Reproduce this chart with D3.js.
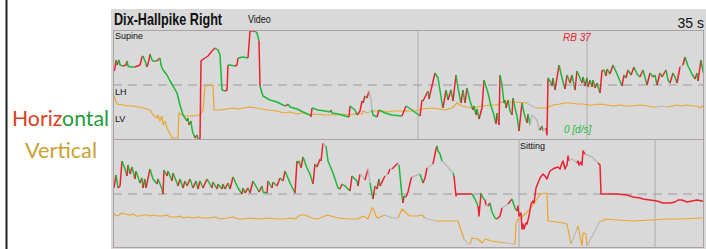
<!DOCTYPE html>
<html>
<head>
<meta charset="utf-8">
<script src="https://cdn.jsdelivr.net/npm/d3@7"></script>
<style>
  body { margin: 0; background: #fff; }
  svg { display: block; }
</style>
</head>
<body>
<div id="chart"></div>
<script>
// Eye velocity traces, [time sample, deg/s, phase]
// phase: f = fast phase, s = slow phase, m = missing, v = vertical, ok
var upperH = [
  [0,14,"s"],[1,17,"f"],[2,25,"f"],[3,20,"s"],[5,25,"f"],[6,20,"s"],[9,19,"s"],[12,20,"f"],[13,24,"f"],[14,19,"s"],
  [16,18,"s"],[21,18,"s"],[26,20,"f"],[28,28,"f"],[29,29,"f"],[31,24,"s"],[33,18,"s"],[35,25,"f"],[36,31,"f"],[38,25,"s"],
  [39,24,"s"],[43,24,"s"],[46,27,"f"],[47,20,"s"],[49,15,"s"],[53,10,"s"],[56,4,"s"],[59,-1,"s"],[63,-8,"s"],[66,-20,"s"],
  [69,-30,"s"],[73,-36,"s"],[74,-33,"f"],[75,-40,"s"],[77,-36,"f"],[78,-44,"s"],[79,-48,"s"],[81,-53,"s"],[83,-50,"f"],[84,-54,"s"],
  [86,-54,"s"],[87,24,"f"],[88,25,"f"],[91,27,"f"],[94,29,"f"],[98,34,"f"],[101,37,"f"],[104,35,"s"],[106,30,"s"],[108,-5,"s"],
  [111,-6,"s"],[113,-5,"f"],[114,20,"f"],[116,20,"s"],[121,19,"s"],[123,20,"f"],[124,27,"f"],[129,28,"s"],[134,27,"s"],[136,54,"f"],
  [141,54,"f"],[143,52,"s"],[145,44,"s"],[146,-1,"f"],[148,-8,"s"],[149,-11,"s"],[156,-15,"s"],[163,-17,"s"],[169,-20,"s"],[172,-21,"s"],
  [174,-19,"f"],[176,-22,"s"],[183,-24,"s"],[189,-27,"s"],[196,-30,"s"],[197,-32,"s"],[198,-23,"f"],[204,-25,"s"],[211,-26,"s"],[216,-27,"s"],
  [217,-25,"f"],[218,-28,"s"],[224,-29,"s"],[231,-31,"s"],[235,-32,"s"],[236,-21,"f"],[241,-25,"s"],[243,-30,"s"],[246,-26,"f"],[248,-16,"f"],
  [249,-18,"s"],[251,-11,"f"],[253,-13,"s"],[255,-6,"f"],[257,-15,"m"],[258,-25,"m"],[259,-30,"s"],[263,-32,"s"],[265,-25,"f"],[271,-28,"s"],
  [278,-30,"s"],[288,-31,"s"],[292,-21,"f"],[298,-25,"s"],[306,-31,"s"],[308,-15,"f"],[309,-16,"s"],[314,-6,"f"],[315,-14,"s"],[317,-5,"f"],
  [321,12,"f"],[324,7,"s"],[328,-18,"s"],[329,-23,"s"],[332,-5,"f"],[334,-15,"s"],[337,-5,"f"],[339,-16,"s"],[342,10,"f"],[344,-3,"s"],
  [347,-18,"s"],[349,-5,"f"],[351,-18,"s"],[353,-3,"f"],[356,-16,"s"],[359,-25,"s"],[360,-21,"f"],[362,-30,"s"],[363,-24,"f"],[365,-34,"s"],
  [368,-23,"f"],[370,5,"f"],[374,-8,"s"],[377,-21,"s"],[380,-30,"s"],[382,-39,"s"],[383,-28,"f"],[385,-40,"s"],[386,10,"f"],[388,0,"s"],
  [390,-18,"s"],[391,-15,"f"],[392,-23,"s"],[394,-15,"f"],[396,-26,"s"],[398,-30,"s"],[399,-13,"f"],[401,-23,"s"],[403,-31,"s"],[404,-38,"s"],
  [405,-46,"s"],[408,-18,"f"],[410,-28,"s"],[413,-38,"s"],[414,-29,"f"],[416,-40,"s"],[418,-30,"m"],[423,-35,"m"],[425,-44,"m"],[426,-45,"s"],
  [428,-41,"f"],[429,-46,"s"],[432,-43,"m"],[433,-50,"f"],[434,7,"f"],[436,4,"s"],[438,-1,"s"],[439,7,"f"],[441,-5,"s"],[443,7,"f"],
  [445,20,"f"],[448,7,"s"],[451,-4,"s"],[453,10,"f"],[456,2,"s"],[458,10,"f"],[461,-5,"s"],[463,14,"f"],[468,2,"s"],[469,8,"f"],
  [471,-1,"s"],[473,7,"f"],[474,-2,"s"],[476,5,"f"],[478,-2,"s"],[479,5,"f"],[481,-3,"s"],[483,2,"f"],[486,-8,"s"],[488,14,"f"],
  [490,15,"f"],[492,9,"s"],[493,16,"f"],[496,11,"s"],[499,20,"f"],[503,11,"s"],[508,-1,"s"],[510,10,"f"],[512,7,"s"],[514,15,"f"],
  [517,10,"s"],[520,18,"f"],[523,11,"s"],[526,8,"s"],[529,15,"f"],[533,0,"s"],[536,12,"f"],[539,8,"s"],[541,10,"f"],[543,0,"s"],
  [546,12,"f"],[548,8,"s"],[552,15,"f"],[554,5,"s"],[556,2,"s"],[559,12,"f"],[561,8,"s"],[563,2,"s"],[566,18,"f"],[569,20,"m"],
  [571,28,"f"],[574,19,"s"],[578,11,"s"],[581,6,"s"],[583,12,"f"],[584,4,"s"],[587,25,"f"],[589,13,"s"],[591,10,"s"]
];

var upperV = [
  [0,-11,"v"],[3,-19,"v"],[9,-20,"v"],[14,-21,"v"],[19,-21,"v"],[24,-22,"v"],[29,-23,"v"],[36,-25,"v"],[39,-30,"v"],[43,-33,"v"],
  [44,-30,"v"],[46,-36,"v"],[48,-31,"v"],[49,-40,"v"],[51,-36,"v"],[53,-43,"v"],[56,-49,"v"],[58,-53,"v"],[64,-53,"v"],[65,-28,"v"],
  [68,-30,"v"],[71,-31,"v"],[79,-31,"v"],[86,-30,"v"],[89,-25,"v"],[91,-1,"v"],[99,0,"v"],[100,-25,"v"],[106,-25,"v"],[113,-24,"v"],
  [119,-23,"v"],[124,-24,"v"],[129,-23,"v"],[136,-22,"v"],[143,-23,"v"],[148,-24,"v"],[153,-25,"v"],[163,-26,"v"],[169,-28,"v"],[176,-27,"v"],
  [183,-29,"v"],[189,-28,"v"],[196,-30,"v"],[201,-29,"v"],[211,-30,"v"],[221,-30,"v"],[228,-29,"v"],[234,-30,"v"],[241,-29,"v"],[248,-29,"v"],
  [249,-26,"v"],[253,-28,"v"],[258,-26,"m"],[268,-26,"v"],[273,-27,"v"],[278,-26,"v"],[291,-26,"v"],[301,-26,"v"],[308,-24,"v"],[318,-23,"v"],
  [325,-24,"v"],[331,-25,"v"],[338,-23,"v"],[343,-18,"v"],[348,-21,"v"],[358,-23,"v"],[368,-21,"v"],[378,-20,"v"],[384,-20,"v"],[386,-17,"v"],
  [391,-18,"v"],[393,-17,"v"],[403,-17,"v"],[413,-18,"v"],[418,-21,"m"],[423,-23,"m"],[433,-23,"v"],[436,-21,"v"],[439,-20,"v"],[446,-19,"v"],
  [451,-18,"v"],[456,-18,"v"],[463,-19,"v"],[469,-19,"v"],[474,-20,"v"],[479,-20,"v"],[486,-19,"v"],[493,-20,"v"],[499,-21,"v"],[506,-20,"v"],
  [513,-21,"v"],[519,-21,"v"],[526,-20,"v"],[533,-21,"v"],[538,-22,"v"],[543,-22,"v"],[548,-21,"m"],[553,-22,"m"],[558,-21,"v"],[563,-20,"v"],
  [568,-21,"v"],[573,-20,"v"],[578,-21,"v"],[583,-21,"v"],[586,-23,"v"],[590,-20,"v"]
];

var lowerH = [
  [0,6,"s"],[2,19,"f"],[4,6,"s"],[6,8,"f"],[8,33,"f"],[11,25,"s"],[13,18,"s"],[14,29,"f"],[16,20,"s"],[18,27,"f"],
  [21,15,"s"],[22,23,"f"],[26,11,"s"],[28,16,"f"],[29,6,"s"],[31,15,"f"],[32,6,"s"],[36,25,"f"],[39,15,"s"],[43,10,"s"],
  [44,15,"f"],[48,5,"s"],[49,0,"s"],[50,24,"f"],[53,18,"s"],[54,23,"f"],[58,13,"s"],[59,21,"f"],[63,11,"s"],[64,8,"s"],
  [66,15,"f"],[69,6,"s"],[71,13,"f"],[73,8,"s"],[76,15,"f"],[79,6,"s"],[82,13,"f"],[84,5,"s"],[86,13,"f"],[89,6,"s"],
  [93,15,"f"],[98,6,"s"],[99,12,"f"],[103,5,"s"],[104,10,"f"],[108,5,"s"],[109,10,"f"],[111,5,"s"],[114,11,"f"],[116,5,"s"],
  [119,17,"f"],[124,6,"s"],[128,0,"s"],[129,6,"f"],[131,1,"s"],[134,6,"f"],[136,1,"s"],[139,13,"f"],[143,6,"s"],[145,2,"s"],
  [148,8,"f"],[149,2,"s"],[153,1,"s"],[154,13,"f"],[158,6,"s"],[159,12,"f"],[163,8,"s"],[166,16,"f"],[169,13,"s"],[171,23,"f"],
  [176,11,"s"],[181,1,"s"],[183,33,"f"],[184,31,"s"],[185,33,"f"],[187,26,"s"],[189,37,"f"],[193,26,"s"],[196,20,"s"],[199,10,"s"],
  [201,30,"f"],[203,27,"s"],[206,35,"f"],[207,33,"s"],[209,51,"f"],[212,48,"m"],[214,33,"s"],[219,21,"s"],[224,6,"s"],[226,5,"s"],
  [228,10,"f"],[231,8,"s"],[236,3,"s"],[238,18,"f"],[243,13,"s"],[244,8,"s"],[246,20,"f"],[249,17,"m"],[251,14,"m"],[254,25,"f"],
  [256,11,"m"],[258,0,"s"],[259,-5,"s"],[261,8,"f"],[263,5,"s"],[265,15,"f"],[266,8,"s"],[271,18,"f"],[274,20,"m"],[276,25,"f"],
  [278,25,"m"],[280,27,"f"],[284,31,"f"],[285,29,"m"],[288,-2,"s"],[289,-9,"s"],[290,-2,"f"],[292,-3,"s"],[294,2,"f"],[297,15,"f"],
  [298,17,"f"],[306,20,"m"],[309,11,"s"],[311,16,"f"],[313,26,"f"],[319,30,"m"],[322,45,"f"],[323,48,"f"],[324,43,"s"],[326,40,"s"],
  [328,33,"s"],[331,30,"m"],[339,21,"m"],[340,18,"s"],[342,-2,"f"],[343,0,"f"],[358,0,"f"],[361,-5,"s"],[364,-12,"s"],[365,-22,"f"],
  [367,1,"f"],[369,-4,"s"],[371,-6,"s"],[372,-11,"f"],[374,-12,"m"],[376,-9,"f"],[378,-18,"s"],[381,-24,"s"],[383,-25,"s"],[386,-22,"f"],
  [388,-14,"f"],[391,-12,"m"],[394,-10,"m"],[398,-5,"f"],[401,-14,"s"],[403,-17,"s"],[404,-12,"f"],[405,-22,"f"],[407,-19,"f"],[408,-35,"f"],
  [409,-30,"f"],[410,-35,"f"],[412,-29,"f"],[413,-30,"f"],[415,-22,"f"],[417,-10,"f"],[419,-7,"f"],[420,-9,"f"],[422,6,"f"],[424,11,"f"],
  [426,16,"f"],[429,20,"f"],[431,18,"f"],[433,15,"f"],[434,18,"f"],[436,23,"f"],[439,25,"f"],[441,26,"f"],[444,27,"f"],[446,25,"f"],
  [448,31,"f"],[449,33,"f"],[451,25,"f"],[453,29,"f"],[454,38,"f"],[455,33,"f"],[458,35,"m"],[463,31,"m"],[464,33,"f"],[465,29,"f"],
  [467,32,"f"],[468,29,"f"],[469,43,"f"],[471,40,"f"],[478,37,"m"],[484,31,"m"],[486,29,"f"],[487,0,"f"],[503,0,"f"],[513,-1,"f"],
  [519,-3,"f"],[526,-4,"f"],[529,-5,"f"],[536,-6,"f"],[543,-7,"f"],[549,-9,"f"],[556,-9,"f"],[561,-8,"f"],[564,-6,"f"],[568,-6,"f"],
  [573,-8,"f"],[578,-7,"f"],[583,-6,"f"],[588,-7,"f"],[591,-7,"f"]
];

var lowerV = [
  [0,-20,"v"],[3,-22,"v"],[5,-21,"v"],[8,-19,"v"],[11,-20,"v"],[16,-21,"v"],[19,-20,"v"],[22,-22,"v"],[26,-22,"v"],[29,-21,"v"],
  [33,-21,"v"],[36,-22,"v"],[39,-21,"v"],[43,-22,"v"],[49,-22,"v"],[53,-21,"v"],[56,-23,"v"],[63,-23,"v"],[66,-22,"v"],[69,-24,"v"],
  [74,-23,"v"],[79,-24,"v"],[84,-23,"v"],[89,-24,"v"],[96,-24,"v"],[101,-23,"v"],[106,-25,"v"],[113,-24,"v"],[119,-23,"v"],[124,-25,"v"],
  [129,-25,"v"],[136,-24,"v"],[146,-25,"v"],[153,-24,"v"],[163,-25,"v"],[171,-25,"v"],[176,-24,"v"],[181,-25,"v"],[186,-21,"v"],[191,-21,"v"],
  [198,-24,"v"],[204,-25,"v"],[213,-21,"v"],[224,-24,"v"],[234,-25,"v"],[244,-25,"v"],[249,-22,"v"],[254,-25,"v"],[258,-14,"v"],[259,-14,"v"],
  [262,-22,"v"],[264,-24,"v"],[271,-21,"v"],[278,-24,"m"],[284,-24,"m"],[288,-15,"v"],[291,-18,"v"],[296,-22,"v"],[303,-22,"v"],[308,-21,"v"],
  [311,-24,"v"],[321,-27,"m"],[323,-27,"v"],[344,-27,"v"],[348,-39,"v"],[350,-45,"v"],[354,-50,"m"],[356,-50,"m"],[358,-44,"v"],[364,-45,"v"],
  [368,-49,"v"],[371,-45,"v"],[378,-47,"v"],[384,-48,"v"],[391,-49,"v"],[393,-49,"m"],[399,-50,"m"],[401,-50,"v"],[402,-29,"v"],[404,-25,"v"],
  [407,-25,"v"],[409,-22,"v"],[416,-15,"v"],[423,-5,"v"],[426,0,"v"],[433,1,"v"],[434,-27,"v"],[443,-28,"v"],[449,-29,"v"],[453,-30,"v"],
  [454,-35,"v"],[456,-45,"v"],[457,-50,"v"],[463,-35,"m"],[464,-32,"v"],[466,-42,"v"],[468,-52,"v"],[469,-39,"v"],[470,-39,"v"],[472,-40,"v"],
  [473,-52,"v"],[486,-27,"m"],[489,-27,"v"],[492,-25,"v"],[503,-26,"v"],[519,-27,"v"],[536,-26,"v"],[553,-25,"v"],[569,-25,"v"],[586,-24,"v"],
  [591,-24,"v"]
];

// grid line times in each panel
var upperGrid = [304, 473];
var lowerGrid = [405, 541];

var phaseColor = { f: "#ee2030", s: "#1cb83a", m: "#b9b9b9", v: "#eba52e" };

var svgWidth = 706;
var svgHeight = 249;

var svg = d3.select("#chart")
  .append("svg")
  .attr("width", svgWidth)
  .attr("height", svgHeight);

// left labels
svg.append("line")
  .attr("x1", 6.5).attr("x2", 6.5)
  .attr("y1", 0).attr("y2", svgHeight)
  .attr("stroke", "#222").attr("stroke-width", 2);

var hz = svg.append("text")
  .attr("x", 12).attr("y", 126)
  .attr("textLength", 97)
  .attr("lengthAdjust", "spacingAndGlyphs")
  .style("font-family", "Lato, 'Open Sans', sans-serif")
  .style("font-size", "21px");
hz.append("tspan").attr("fill", "#d8401f").text("Horiz");
hz.append("tspan").attr("fill", "#1f9a3a").text("ontal");

svg.append("text")
  .attr("x", 25).attr("y", 158)
  .attr("textLength", 72)
  .attr("lengthAdjust", "spacingAndGlyphs")
  .attr("fill", "#c9a034")
  .style("font-family", "Lato, 'Open Sans', sans-serif")
  .style("font-size", "21px")
  .text("Vertical");

// recording area
svg.append("rect")
  .attr("x", 111).attr("y", 9)
  .attr("width", svgWidth - 111).attr("height", svgHeight - 9)
  .attr("fill", "#d9d9d9");

// condensed title, squeezed horizontally
svg.append("text")
  .attr("transform", "translate(114, 25) scale(0.79, 1)")
  .style("font-family", "'Liberation Sans', Arial, sans-serif")
  .style("font-weight", "bold")
  .style("font-size", "16px")
  .attr("fill", "#111")
  .text("Dix-Hallpike Right");

svg.append("text")
  .attr("transform", "translate(248, 23) scale(0.9, 1)")
  .style("font-family", "'Liberation Sans', Arial, sans-serif")
  .style("font-size", "10px")
  .attr("fill", "#111")
  .text("Video");

svg.append("text")
  .attr("x", 704).attr("y", 28)
  .attr("text-anchor", "end")
  .style("font-family", "'Liberation Sans', Arial, sans-serif")
  .style("font-size", "14px")
  .attr("fill", "#111")
  .text("35 s");

var x = d3.scaleLinear().domain([0, 590]).range([114, 704]);

var panels = [
  { top: 30, bottom: 139, h: upperH, v: upperV, grid: upperGrid },
  { top: 139, bottom: 248, h: lowerH, v: lowerV, grid: lowerGrid }
];

function runs(points) {
  // split into same-phase pieces, each starting from the previous point
  var out = [];
  for (var i = 1; i < points.length; i++) {
    var p = points[i][2];
    var last = out[out.length - 1];
    if (last && last.phase === p) {
      last.pts.push(points[i]);
    } else {
      out.push({ phase: p, pts: [points[i - 1], points[i]] });
    }
  }
  return out;
}

panels.forEach(function(panel, k) {
  var y = d3.scaleLinear()
    .domain([-54, 55])
    .range([panel.bottom, panel.top]);

  var g = svg.append("g");

  g.append("clipPath").attr("id", "clip" + k)
    .append("rect")
    .attr("x", 113).attr("y", panel.top)
    .attr("width", 591).attr("height", panel.bottom - panel.top);

  g.selectAll(".grid")
    .data(panel.grid)
    .enter()
    .append("line")
    .attr("x1", d => x(d)).attr("x2", d => x(d))
    .attr("y1", panel.top).attr("y2", panel.bottom)
    .attr("stroke", "#acacac").attr("stroke-width", 1);

  g.append("line")
    .attr("x1", 113).attr("x2", 704)
    .attr("y1", y(0)).attr("y2", y(0))
    .attr("stroke", "#9d97a6")
    .attr("stroke-width", 1)
    .attr("stroke-dasharray", "9,6");

  var line = d3.line()
    .x(d => x(d[0]))
    .y(d => y(d[1]));

  var traces = g.append("g").attr("clip-path", "url(#clip" + k + ")");

  traces.selectAll(".vt")
    .data(runs(panel.v))
    .enter()
    .append("path")
    .attr("d", d => line(d.pts))
    .attr("fill", "none")
    .attr("stroke", d => phaseColor[d.phase])
    .attr("stroke-width", 1.2)
    .attr("stroke-linejoin", "round");

  traces.selectAll(".ht")
    .data(runs(panel.h))
    .enter()
    .append("path")
    .attr("d", d => line(d.pts))
    .attr("fill", "none")
    .attr("stroke", d => phaseColor[d.phase])
    .attr("stroke-width", 1.5)
    .attr("stroke-linejoin", "round");
});

// panel frame
svg.append("rect")
  .attr("x", 113.5).attr("y", 30.5)
  .attr("width", 590).attr("height", 217)
  .attr("fill", "none")
  .attr("stroke", "#ab9fa8").attr("stroke-width", 1);
svg.append("line")
  .attr("x1", 113).attr("x2", 704)
  .attr("y1", 139.5).attr("y2", 139.5)
  .attr("stroke", "#ab9fa8").attr("stroke-width", 1);

// panel labels
var small = [
  { t: "Supine", x: 115, y: 39, c: "#111" },
  { t: "LH", x: 115, y: 95, c: "#111" },
  { t: "LV", x: 115, y: 122, c: "#111" },
  { t: "Sitting", x: 520, y: 149, c: "#111" }
];
svg.selectAll(".lbl")
  .data(small)
  .enter()
  .append("text")
  .attr("x", d => d.x).attr("y", d => d.y)
  .attr("fill", d => d.c)
  .style("font-family", "'Liberation Sans', Arial, sans-serif")
  .style("font-size", "9px")
  .text(d => d.t);

svg.append("text")
  .attr("x", 563).attr("y", 41)
  .attr("fill", "#e8202e")
  .style("font-family", "'Liberation Sans', Arial, sans-serif")
  .style("font-size", "10px")
  .style("font-style", "italic")
  .text("RB 37");

svg.append("text")
  .attr("x", 564).attr("y", 133)
  .attr("fill", "#1cb83a")
  .style("font-family", "'Liberation Sans', Arial, sans-serif")
  .style("font-size", "10px")
  .style("font-style", "italic")
  .text("0 [d/s]");
</script>
</body>
</html>
